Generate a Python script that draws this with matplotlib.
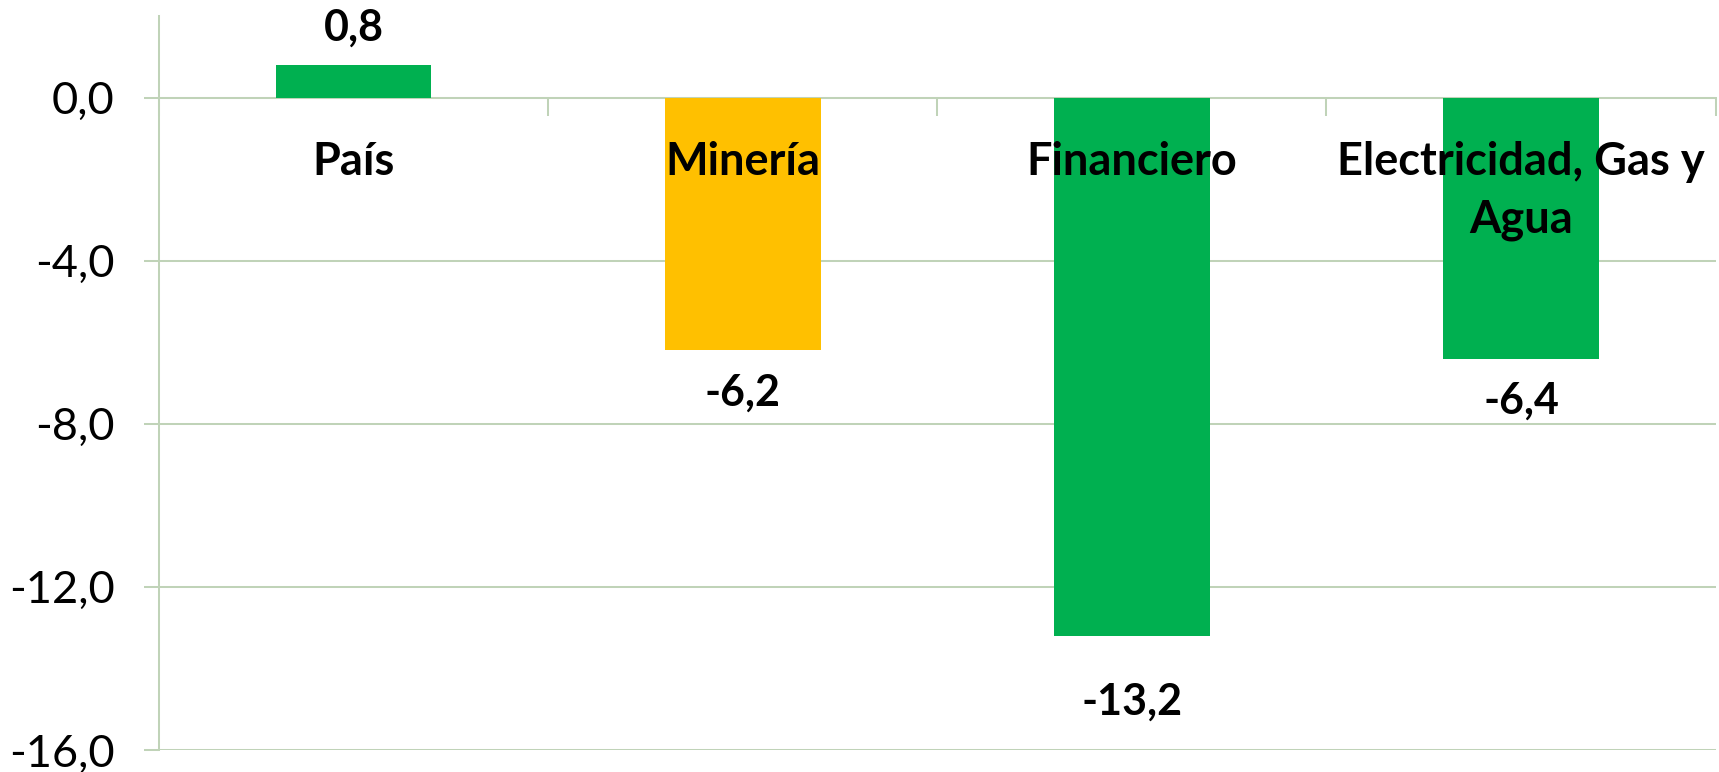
import matplotlib.pyplot as plt
import numpy as np

plt.rcParams['font.family'] = ['Lato', 'DejaVu Sans']

# datos
categorias = ["País", "Minería", "Financiero", "Electricidad, Gas y\nAgua"]
valores = [0.8, -6.2, -13.2, -6.4]
colores = ["#00B050", "#FFC000", "#00B050", "#00B050"]
etiquetas = ["0,8", "-6,2", "-13,2", "-6,4"]
yticks = [0, -4, -8, -12, -16]

# separacion de cada etiqueta respecto a la barra (pixeles)
separacion = [37, -42, -66, -42]

grid_color = "#c0d3b8"

fig = plt.figure(figsize=(17.19, 7.72), dpi=100)
ax = fig.add_axes([0.0925, 0.0285, 0.9055, 0.9505])

x = np.arange(len(categorias))
ax.bar(x, valores, width=0.4, color=colores, zorder=3)

ax.set_xlim(-0.5, len(categorias) - 0.5)
ax.set_ylim(-16, 2)

# eje y
ax.set_yticks(yticks)
ax.set_yticklabels([f"{v:.1f}".replace(".", ",") for v in yticks], fontsize=32.5)
ax.yaxis.grid(True, color=grid_color, linewidth=1.45, zorder=0)
ax.tick_params(axis='y', length=11, width=1.45, color=grid_color, pad=21)

# eje x en el cero, marcas entre categorias
ax.spines['bottom'].set_position(('data', 0))
ax.set_xticks(np.arange(-0.5, len(categorias), 1.0))
ax.set_xticklabels([])
ax.tick_params(axis='x', length=13, width=1.45, color=grid_color, direction='out')
for s in ['top', 'right']:
    ax.spines[s].set_visible(False)
for s in ['left', 'bottom']:
    ax.spines[s].set_color(grid_color)
    ax.spines[s].set_linewidth(1.45)
    ax.spines[s].set_zorder(2)

# nombres de categoria
for i, nombre in enumerate(categorias):
    ax.annotate(nombre, xy=(i, 0), xytext=(0, -43), textcoords='offset pixels',
                ha='center', va='top', fontsize=32.5, fontweight='bold',
                linespacing=1.45, zorder=4)

# etiquetas de valor
for i, (v, t, d) in enumerate(zip(valores, etiquetas, separacion)):
    ax.annotate(t, xy=(i, v), xytext=(0, d), textcoords='offset pixels',
                ha='center', va='center', fontsize=31, fontweight='bold', zorder=4)

fig.savefig("out.png", dpi=100)
